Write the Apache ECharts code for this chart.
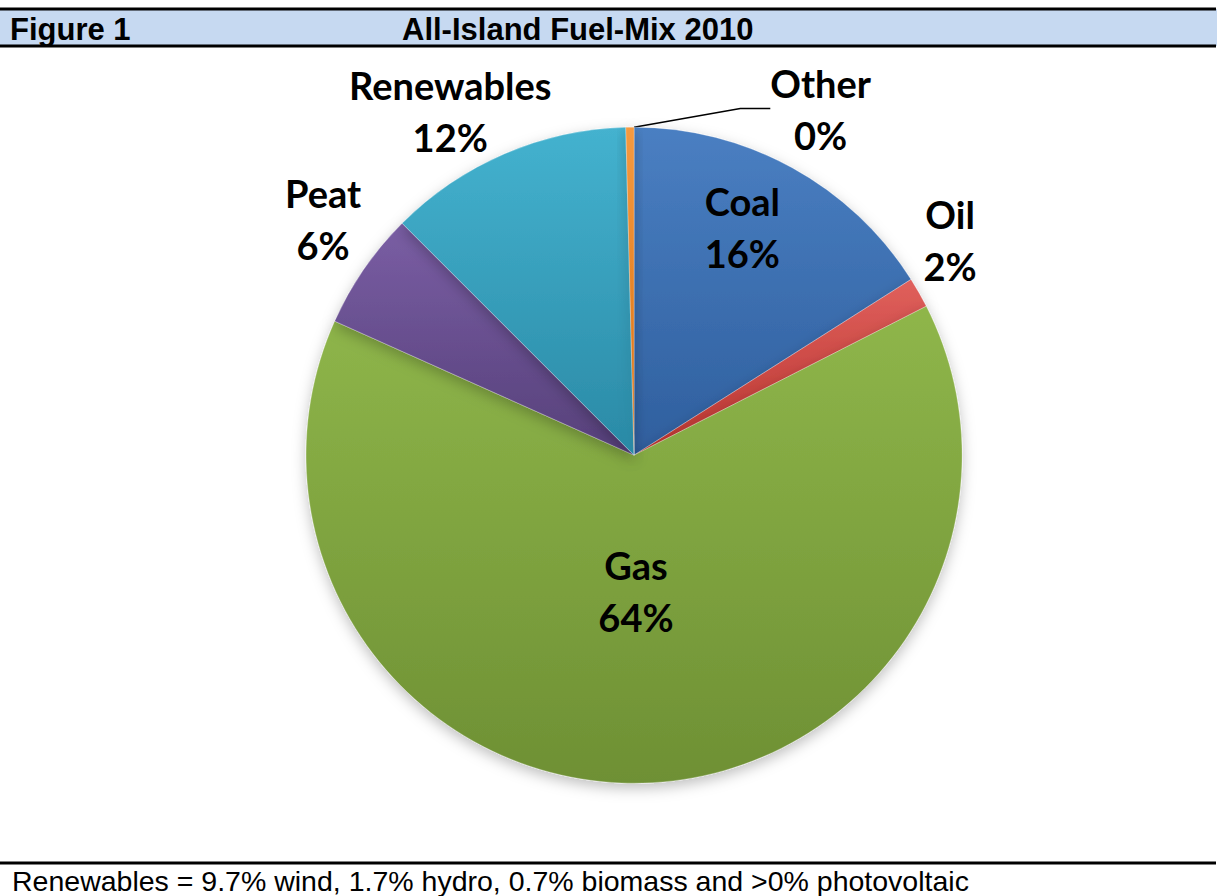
<!DOCTYPE html>
<html><head><meta charset="utf-8">
<script src="https://cdn.jsdelivr.net/npm/echarts@6/dist/echarts.min.js"></script>
<style>html,body{margin:0;padding:0;background:#fff}#c{width:1217px;height:896px}</style>
</head><body><div id="c"></div>
<script>
// Data (percent shares, clockwise from 12 o'clock)
var categories = ['Coal', 'Oil', 'Gas', 'Peat', 'Renewables', 'Other'];
var values = [16.0, 1.5, 64.2, 5.8, 12.1, 0.4];
var figureLabel = 'Figure 1';
var titleText = 'All-Island Fuel-Mix 2010';
var footnote = 'Renewables = 9.7% wind, 1.7% hydro, 0.7% biomass and >0% photovoltaic';

// styles
var colors = [
  ['#4a7fc2', '#2f5f9e'],
  ['#e0605c', '#b8342f'],
  ['#8fb64a', '#6e9034'],
  ['#7a5ea4', '#56407a'],
  ['#44b2cf', '#2a8aa6'],
  ['#f59a40', '#d86f12']
];
// label placement in polar terms: angle (deg clockwise from top), radius fraction
var labelAngle = [25.4, 55.8, 179.2, 307.2, 331.9, 28.3];
var labelRad = [0.77, 1.165, 0.415, 1.19, 1.19, 1.2];

var CX = 0.521, CY = 0.508, R = 328;
var chart = echarts.init(document.getElementById('c'), null, {renderer: 'svg'});
var W = 1217, H = 896;

var data = categories.map(function (n, i) {
  var item = {
    name: n, value: values[i],
    itemStyle: {
      color: {type: 'linear', x: 0, y: 0, x2: 0, y2: 1,
        colorStops: [{offset: 0, color: colors[i][0]}, {offset: 1, color: colors[i][1]}]}
    }
  };
  if (i === 5) item.labelLine = {show: true, lineStyle: {color: '#000', width: 1.5}};
  return item;
});

var hdrFont = 'bold 31px "Liberation Sans", Arial, sans-serif';
chart.setOption({
  animation: false,
  graphic: [
    {type: 'rect', shape: {x: 0, y: 9, width: W, height: 37}, style: {fill: '#c6d9f1'}},
    {type: 'line', shape: {x1: 0, y1: 9, x2: 1216, y2: 9}, style: {stroke: '#000', lineWidth: 3}},
    {type: 'line', shape: {x1: 0, y1: 46, x2: 1216, y2: 46}, style: {stroke: '#000', lineWidth: 3}},
    {type: 'text', x: 10, y: 29, style: {text: figureLabel, font: hdrFont, fill: '#000', verticalAlign: 'middle'}},
    {type: 'text', x: 402, y: 29, style: {text: titleText, font: hdrFont, fill: '#000', verticalAlign: 'middle'}},
    {type: 'line', shape: {x1: 0, y1: 863, x2: 1216, y2: 863}, style: {stroke: '#000', lineWidth: 3}},
    {type: 'text', x: 12, y: 881, style: {text: footnote, font: '28.5px "Liberation Sans", Arial, sans-serif', fill: '#000', verticalAlign: 'middle'}}
  ],
  series: [{
    type: 'pie',
    center: [(CX * 100) + '%', (CY * 100) + '%'],
    radius: R,
    startAngle: 90,
    clockwise: true,
    minAngle: 0,
    avoidLabelOverlap: false,
    itemStyle: {borderColor: 'rgba(255,255,255,0.25)', borderWidth: 1, shadowBlur: 14, shadowColor: 'rgba(0,0,0,0.25)', shadowOffsetY: 5},
    label: {
      show: true, position: 'inside',
      formatter: function (p) { return p.name + '\n' + Math.round(p.percent) + '%'; },
      fontFamily: 'Lato, "Open Sans", sans-serif', fontWeight: 'bold', fontSize: 38,
      lineHeight: 52, color: '#000', align: 'center'
    },
    labelLine: {show: false},
    labelLayout: function (p) {
      var i = p.dataIndex;
      var cx = CX * W, cy = CY * H;
      var a = labelAngle[i] * Math.PI / 180;
      var x = cx + Math.sin(a) * R * labelRad[i];
      var y = cy - Math.cos(a) * R * labelRad[i];
      var out = {x: x, y: y, align: 'center', verticalAlign: 'middle'};
      if (i === 5) {
        var s = 0;
        for (var k = 0; k < 5; k++) s += values[k];
        var tot = s + values[5];
        var m = (s + values[5] / 2) / tot * 2 * Math.PI;
        var ex = cx + Math.sin(m) * R, ey = cy - Math.cos(m) * R;
        var lx = x - p.rect.width / 2 - 3, ly = y - p.rect.height / 2 + 16;
        out.labelLinePoints = [[ex, ey], [lx - 13, ly], [lx, ly]];
      }
      return out;
    },
    data: data
  }]
});
</script></body></html>
